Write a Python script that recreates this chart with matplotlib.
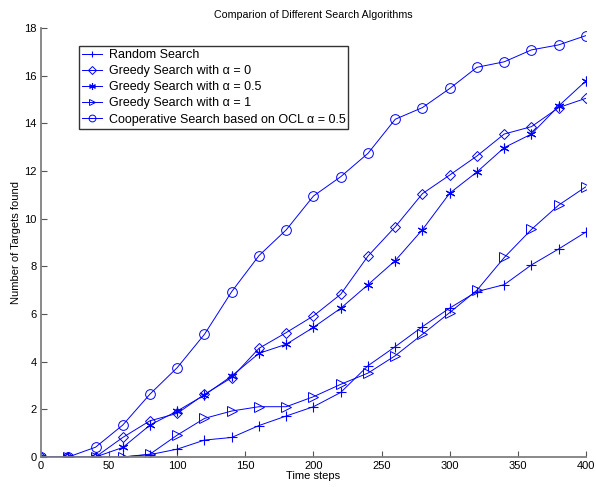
import numpy as np
import matplotlib
matplotlib.use('Agg')
import matplotlib.pyplot as plt

plt.rcParams['font.family'] = ['Liberation Sans', 'DejaVu Sans']

# ----------------------------------------------------------------------
# Data
# ----------------------------------------------------------------------

time_steps = np.arange(0, 401, 20)

random_search = [0, 0, 0, 0, 0.1, 0.33, 0.71, 0.82, 1.32, 1.72, 2.11,
                 2.71, 3.83, 4.63, 5.47, 6.25, 6.94, 7.23, 8.06, 8.73, 9.44]
greedy_0 = [0, 0, 0, 0.82, 1.52, 1.83, 2.63, 3.33, 4.56, 5.22, 5.92,
            6.83, 8.43, 9.66, 11.05, 11.83, 12.63, 13.55, 13.86, 14.66, 15.05]
greedy_05 = [0, 0, 0, 0.4, 1.34, 1.93, 2.6, 3.4, 4.35, 4.73, 5.44,
             6.24, 7.23, 8.24, 9.54, 11.07, 11.96, 12.98, 13.55, 14.73, 15.78]
greedy_1 = [0, 0, 0, 0, 0.12, 0.92, 1.62, 1.93, 2.11, 2.11, 2.53,
            3.05, 3.52, 4.25, 5.15, 6.06, 7.0, 8.37, 9.55, 10.57, 11.34]
cooperative = [0, 0, 0.41, 1.34, 2.64, 3.75, 5.15, 6.94, 8.45, 9.53, 10.95,
               11.76, 12.74, 14.17, 14.66, 15.46, 16.35, 16.58, 17.08, 17.29, 17.68]

labels = ['Random Search',
          'Greedy Search with \u03b1 = 0',
          'Greedy Search with \u03b1 = 0.5',
          'Greedy Search with \u03b1 = 1',
          'Cooperative Search based on OCL \u03b1 = 0.5']

# ----------------------------------------------------------------------
# Plot
# ----------------------------------------------------------------------

fig = plt.figure(figsize=(5.96, 4.87), dpi=100)
ax = fig.add_axes([0.0688, 0.0616, 0.9144, 0.881])

col = 'blue'
lw = 0.7
ax.plot(time_steps, random_search, color=col, lw=lw, marker='+', ms=7,
        mew=0.8, label=labels[0])
ax.plot(time_steps, greedy_0, color=col, lw=lw, marker='D', ms=5.5,
        mfc='none', mew=0.7, label=labels[1])
ax.plot(time_steps, greedy_05, color=col, lw=lw, marker=(6, 2, 0), ms=7,
        mew=0.8, label=labels[2])
ax.plot(time_steps, greedy_1, color=col, lw=lw, marker='>', ms=7,
        mfc='none', mew=0.7, label=labels[3])
ax.plot(time_steps, cooperative, color=col, lw=lw, marker='o', ms=7,
        mfc='none', mew=0.7, label=labels[4])

ax.set_xlim(0, 400)
ax.set_ylim(0, 18)
ax.set_xticks(np.arange(0, 401, 50))
ax.set_yticks(np.arange(0, 19, 2))
ax.tick_params(direction='in', labelsize=8, length=4, width=0.8,
               colors='#555555', labelcolor='black', pad=3)
ax.spines['top'].set_visible(False)
ax.spines['right'].set_visible(False)
for s in ['left', 'bottom']:
    ax.spines[s].set_color('#808080')
    ax.spines[s].set_linewidth(1.3)

ax.set_title('Comparion of Different Search Algorithms', fontsize=7.7, pad=7)
ax.set_xlabel('Time steps', fontsize=8, labelpad=0)
ax.set_ylabel('Number of Targets found', fontsize=8, labelpad=2.5)

leg = ax.legend(loc='upper left', bbox_to_anchor=(0.069, 0.958), fontsize=9,
                frameon=True, fancybox=False, edgecolor='black',
                borderpad=0.25, labelspacing=0.33, handlelength=1.6,
                handletextpad=0.55, borderaxespad=0, markerscale=0.7)
leg.get_frame().set_linewidth(1.0)

plt.savefig('out.png', dpi=100)
plt.close()
